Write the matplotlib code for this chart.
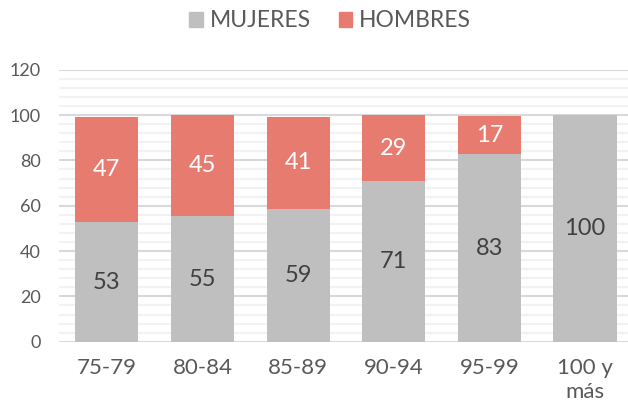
import numpy as np
import matplotlib.pyplot as plt
from matplotlib.patches import Patch

# datos
grupos = ['75-79', '80-84', '85-89', '90-94', '95-99', '100 y\nmás']
mujeres = [52.6, 55.3, 58.6, 70.8, 82.6, 100.0]
hombres = [46.7, 44.8, 40.6, 29.2, 16.9, 0.0]

gris = '#BFBFBF'
rojo = '#E87B70'
texto = '#595959'

plt.rcParams['font.family'] = ['Lato', 'DejaVu Sans']

fig = plt.figure(figsize=(6.28, 4.12), dpi=100)
ax = fig.add_axes([59 / 628, 0.1706, 1 - 59 / 628, 0.6602])

x = np.arange(len(grupos))
ancho = 0.66
ax.bar(x, mujeres, ancho, color=gris, zorder=3)
ax.bar(x, hombres, ancho, bottom=mujeres, color=rojo, zorder=3)

# etiquetas de datos
for i in range(len(grupos)):
    m = mujeres[i]
    h = hombres[i]
    ax.text(x[i], m / 2, f'{round(m)}', ha='center', va='center',
            fontsize=17, color='#404040', zorder=4)
    if h > 0:
        ax.text(x[i], m + h / 2, f'{round(h)}', ha='center', va='center',
                fontsize=17, color='white', zorder=4)

ax.set_ylim(0, 120)
ax.set_xlim(-0.5, 5.45)
ax.set_yticks(np.arange(0, 121, 20))
ax.set_yticks(np.arange(0, 121, 4), minor=True)
ax.grid(axis='y', which='major', color='#D9D9D9', linewidth=1.5, zorder=0)
ax.grid(axis='y', which='minor', color='#F2F2F2', linewidth=1.5, zorder=0)
ax.set_xticks(x)
ax.set_xticklabels(grupos)
ax.tick_params(axis='both', which='both', length=0, colors=texto)
ax.tick_params(axis='y', labelsize=13, pad=13)
ax.tick_params(axis='x', labelsize=16, pad=12)
for s in ax.spines.values():
    s.set_visible(False)

handles = [Patch(color=gris, label='MUJERES'), Patch(color=rojo, label='HOMBRES')]
fig.legend(handles=handles, loc='upper center', bbox_to_anchor=(0.526, 1.025), ncol=2,
           frameon=False, fontsize=16.5, labelcolor=texto, handlelength=0.6,
           handleheight=0.6, handletextpad=0.3, columnspacing=1.2)

fig.savefig('out.png', dpi=100)
